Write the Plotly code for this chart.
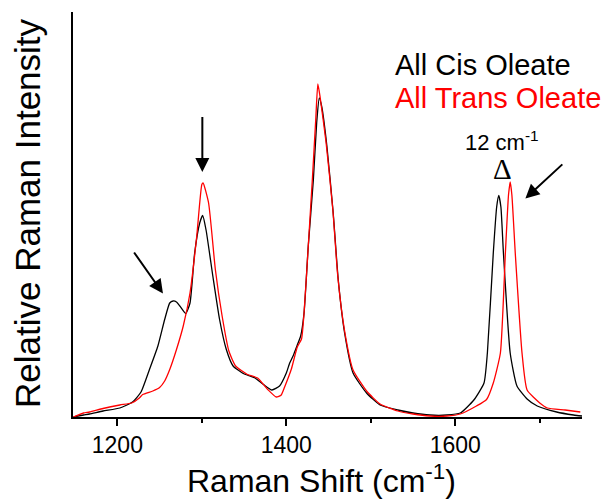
import plotly.graph_objects as go

# Raman shift (cm-1) and relative intensity
cis_x = [1148, 1160, 1167, 1183, 1203, 1218, 1228, 1238, 1248, 1256, 1262, 1266, 1270, 1274, 1281,
         1286, 1291.5, 1297.5, 1301, 1305, 1313, 1321, 1329, 1337, 1349, 1357, 1363, 1373, 1383,
         1392, 1400, 1404, 1408, 1413, 1417, 1421, 1426, 1432, 1436, 1439, 1442, 1448, 1455.5,
         1461.5, 1469, 1479, 1495, 1511, 1532, 1550, 1570, 1590, 1606, 1622, 1634, 1638, 1645,
         1649, 1651.5, 1654, 1657, 1665, 1673, 1685, 1697, 1720, 1740, 1750]
cis_y = [0, 2, 3, 6, 9, 15, 25, 47.5, 71, 97.5, 114, 116, 115, 111, 103.5,
         114, 164, 194, 201.5, 187, 141, 97.5, 67.5, 51, 43.5, 41, 39, 32.5, 27,
         31, 44, 54, 61, 72, 81, 104, 171, 237, 295, 319, 310, 271, 204,
         137, 84, 44, 24, 12, 7, 4, 2, 2, 4, 17, 34, 64, 164,
         210, 221.5, 210, 164, 64, 31, 18, 11, 5, 2, 1]

trans_x = [1148, 1160, 1167, 1183, 1203, 1217, 1226, 1230, 1242, 1250, 1256, 1262, 1270, 1278, 1286,
           1294, 1300, 1301.5, 1308, 1316, 1324, 1332, 1340, 1354, 1366, 1378, 1388, 1394, 1398,
           1406, 1413, 1418, 1421, 1426, 1431, 1435, 1437.3, 1440, 1447, 1455, 1461, 1469, 1479,
           1495, 1511, 1532, 1550, 1570, 1590, 1606, 1625, 1637, 1645, 1653.4, 1659.3, 1663, 1665,
           1667, 1671, 1679, 1685, 1700, 1709, 1730, 1748]
trans_y = [0, 4, 5, 8.5, 12, 14, 19, 22.5, 26, 29.5, 36, 47.5, 67.5, 91, 124,
           181, 232.5, 234, 214, 147.5, 101, 66, 51, 42.5, 39, 27.5, 20, 22, 30,
           48, 70, 78, 104, 171, 240, 300, 333, 320, 275, 208, 140, 86, 47,
           26, 13, 6, 3, 1, 1, 3, 11, 17.5, 34, 64, 164, 222, 235,
           222, 164, 64, 27, 14, 9, 7, 5]

series_names = ["All Cis Oleate", "All Trans Oleate"]
tick_vals = [1200, 1400, 1600]
tick_text = ["1200", "1400", "1600"]

FONT = "Liberation Sans, Arial, sans-serif"

fig = go.Figure()
fig.add_trace(go.Scatter(x=cis_x, y=cis_y, mode="lines", name=series_names[0],
                         line=dict(color="black", width=1.3, shape="spline", smoothing=0.5)))
fig.add_trace(go.Scatter(x=trans_x, y=trans_y, mode="lines", name=series_names[1],
                         line=dict(color="red", width=1.3, shape="spline", smoothing=0.5)))

W, H = 605, 499
L, R, T, B = 73, 23, 12, 82
pw, ph = W - L - R, H - T - B


def px(xp):
    return (xp - L) / pw


def py(yp):
    return (H - B - yp) / ph


annotations = [
    dict(text=series_names[0], x=px(393), y=py(65), xref="paper", yref="paper",
         xanchor="left", yanchor="middle", showarrow=False,
         font=dict(family=FONT, size=29, color="black")),
    dict(text=series_names[1], x=px(393), y=py(98), xref="paper", yref="paper",
         xanchor="left", yanchor="middle", showarrow=False,
         font=dict(family=FONT, size=29, color="red")),
    dict(text="12 cm<sup>-1</sup>", x=px(501.5), y=py(141), xref="paper", yref="paper",
         xanchor="center", yanchor="middle", showarrow=False, borderpad=0,
         font=dict(family=FONT, size=22, color="black")),
    dict(text="Δ", x=px(502.5), y=py(169), xref="paper", yref="paper",
         xanchor="center", yanchor="middle", showarrow=False, borderpad=0,
         font=dict(family="Liberation Serif, Times New Roman, serif", size=29, color="black")),
    dict(text="Raman Shift (cm<sup>-1</sup>)", x=px(321), y=py(479), xref="paper", yref="paper",
         xanchor="center", yanchor="middle", showarrow=False,
         font=dict(family=FONT, size=32, color="black")),
    dict(text="Relative Raman Intensity", x=px(27), y=py(213), xref="paper", yref="paper",
         xanchor="center", yanchor="middle", showarrow=False, textangle=-90,
         font=dict(family=FONT, size=35, color="black")),
]

arrows = [
    (1300.6, 245, 1300.6, 301.5),
    (1254, 123.5, 1218.6, 166),
    (1683, 218.5, 1728.5, 254),
]
for xt, yt, xa, ya in arrows:
    annotations.append(dict(x=xt, y=yt, ax=xa, ay=ya, xref="x", yref="y", axref="x", ayref="y",
                            text="", showarrow=True, arrowhead=2, arrowsize=1.4, arrowwidth=2,
                            arrowcolor="black", standoff=0, startstandoff=0))

fig.update_layout(
    width=W, height=H,
    margin=dict(l=L, r=R, t=T, b=B),
    paper_bgcolor="white", plot_bgcolor="white",
    showlegend=False,
    annotations=annotations,
    xaxis=dict(range=[1147.5, 1750], showgrid=False, zeroline=False,
               showline=True, linecolor="black", linewidth=1.5,
               ticks="outside", ticklen=7, tickwidth=1.5, tickcolor="black",
               tickvals=tick_vals, ticktext=tick_text,
               tickfont=dict(family=FONT, size=23, color="black"),
               minor=dict(tickvals=[1300, 1500, 1700], ticks="outside", ticklen=4,
                          tickwidth=1.5, tickcolor="black", showgrid=False)),
    yaxis=dict(range=[0, 405], showgrid=False, zeroline=False,
               showline=True, linecolor="black", linewidth=1.5,
               showticklabels=False, ticks=""),
)

fig.write_html("out.html", config={"displayModeBar": False},
               post_script="document.body.style.margin='0';document.body.style.overflow='hidden';")
